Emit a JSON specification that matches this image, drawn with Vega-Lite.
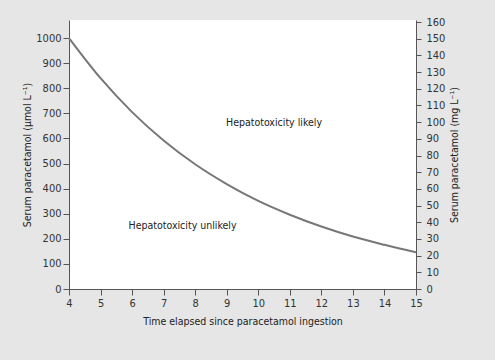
{
  "$schema": "https://vega.github.io/schema/vega-lite/v6.json",
  "width": 347,
  "height": 269,
  "autosize": {"type": "none"},
  "padding": {"left": 69, "top": 20, "right": 79, "bottom": 71},
  "background": "#e6e6e6",
  "config": {
    "view": {"fill": "white", "stroke": null},
    "font": "DejaVu Sans Condensed, Liberation Sans, sans-serif",
    "axis": {
      "grid": false,
      "domainColor": "#555555",
      "tickColor": "#555555",
      "labelColor": "#333333",
      "titleColor": "#222222",
      "labelFont": "DejaVu Sans Condensed, Liberation Sans, sans-serif",
      "titleFont": "DejaVu Sans Condensed, Liberation Sans, sans-serif",
      "labelFontSize": 11,
      "titleFontSize": 10.5,
      "titleFontWeight": "normal",
      "labelOverlap": false,
      "labelFlush": false,
      "format": "d"
    }
  },
  "layer": [
    {
      "data": {"values": [
        {"hours": 4, "umol": 1000},
        {"hours": 5, "umol": 840},
        {"hours": 6, "umol": 705},
        {"hours": 7, "umol": 592},
        {"hours": 8, "umol": 497},
        {"hours": 9, "umol": 418},
        {"hours": 10, "umol": 351},
        {"hours": 11, "umol": 296},
        {"hours": 12, "umol": 249},
        {"hours": 13, "umol": 209},
        {"hours": 14, "umol": 176},
        {"hours": 15, "umol": 146}
      ]},
      "mark": {"type": "line", "color": "#777777", "strokeWidth": 2, "interpolate": "monotone"},
      "encoding": {
        "x": {
          "field": "hours", "type": "quantitative",
          "scale": {"domain": [4, 15], "nice": false},
          "axis": {"title": "Time elapsed since paracetamol ingestion", "values": [4,5,6,7,8,9,10,11,12,13,14,15], "tickSize": 6, "labelPadding": 2, "titlePadding": 8}
        },
        "y": {
          "field": "umol", "type": "quantitative",
          "scale": {"domain": [0, 1072], "nice": false},
          "axis": {"title": "Serum paracetamol (μmol L⁻¹)", "values": [0,100,200,300,400,500,600,700,800,900,1000], "tickSize": 6, "labelPadding": 2, "titlePadding": 3}
        }
      }
    },
    {
      "data": {"values": [
        {"hours": 10.5, "umol": 662, "label": "Hepatotoxicity likely"},
        {"hours": 7.6, "umol": 250, "label": "Hepatotoxicity unlikely"}
      ]},
      "mark": {"type": "text", "fontSize": 10.5, "color": "#222222"},
      "encoding": {
        "x": {
          "field": "hours", "type": "quantitative",
          "scale": {"domain": [4, 15], "nice": false},
          "axis": {"title": "Time elapsed since paracetamol ingestion", "values": [4,5,6,7,8,9,10,11,12,13,14,15], "tickSize": 6, "labelPadding": 2, "titlePadding": 8}
        },
        "y": {"field": "umol", "type": "quantitative", "scale": {"domain": [0, 1072], "nice": false}, "axis": null},
        "text": {"field": "label"}
      }
    },
    {
      "data": {"values": [{"mg": 0}]},
      "mark": {"type": "rule", "opacity": 0},
      "encoding": {
        "y": {
          "field": "mg", "type": "quantitative",
          "scale": {"domain": [0, 161.2], "nice": false},
          "axis": {"orient": "right", "title": "Serum paracetamol (mg L⁻¹)", "titleAngle": 270, "titleBaseline": "top", "values": [0,10,20,30,40,50,60,70,80,90,100,110,120,130,140,150,160], "tickSize": 5, "labelPadding": 5, "titlePadding": 5}
        }
      }
    }
  ],
  "resolve": {"scale": {"y": "independent"}}
}
